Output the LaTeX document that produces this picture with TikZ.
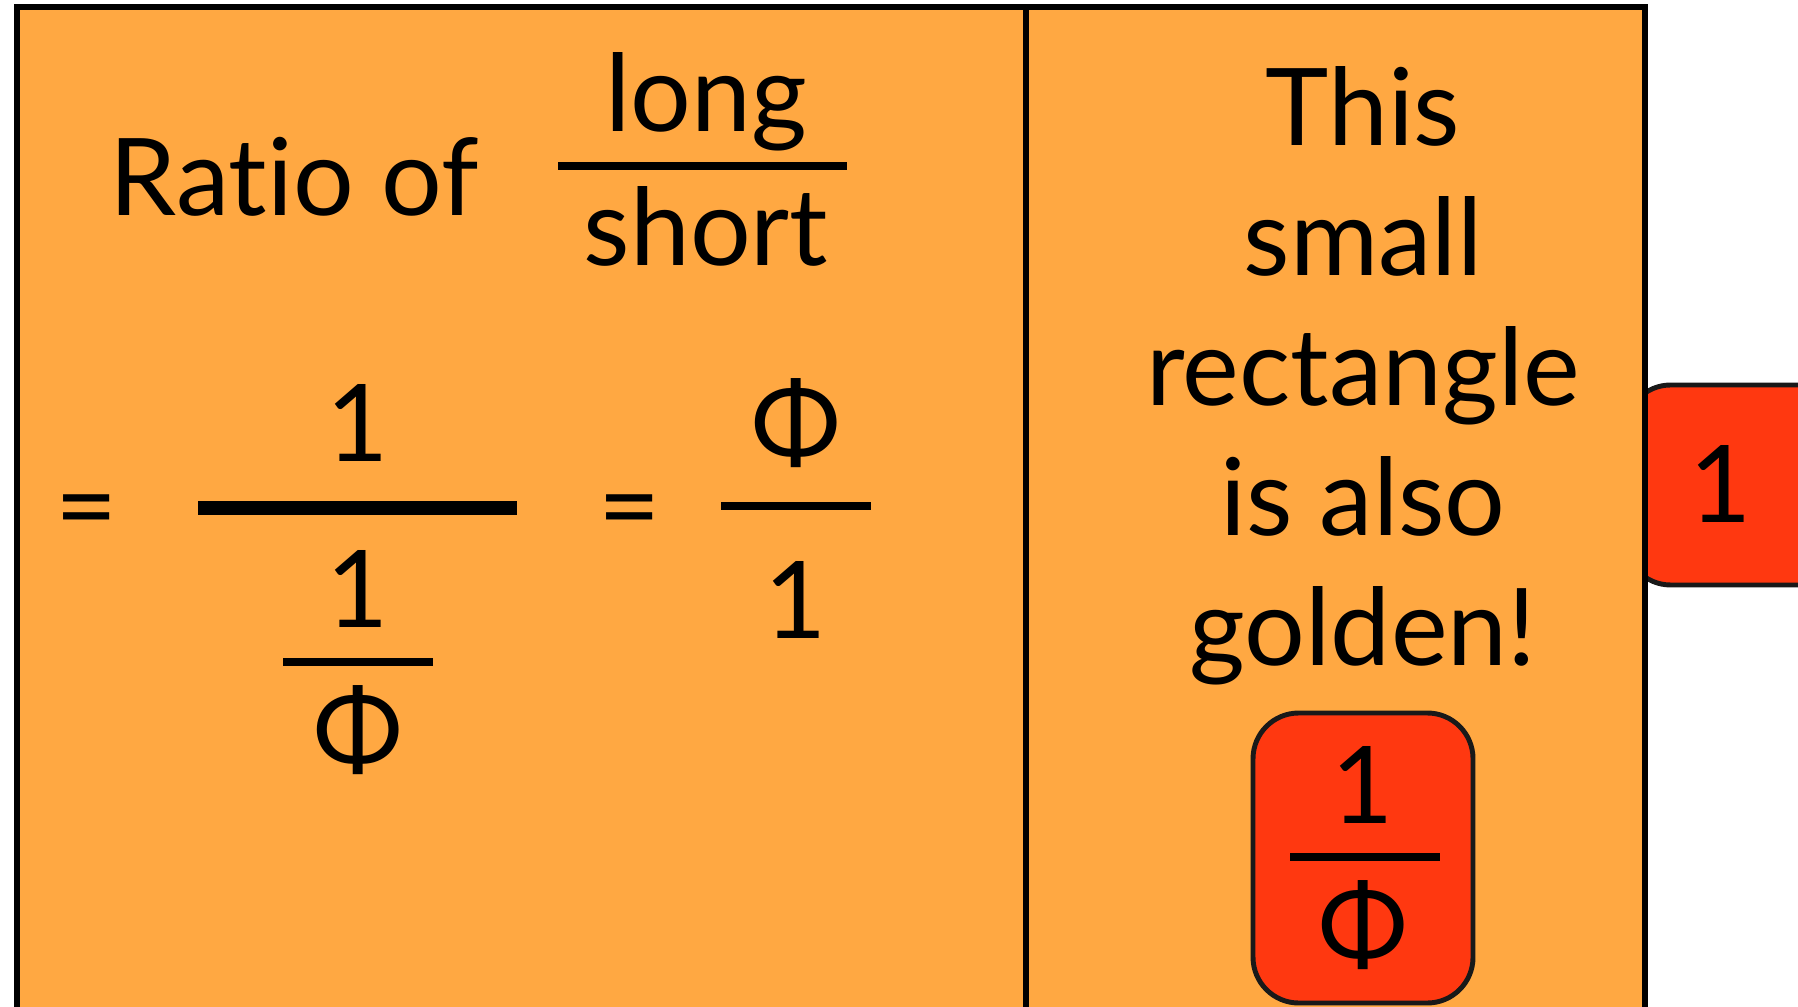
\documentclass[tikz,border=0pt]{standalone}
\usepackage{fontspec}
\setmainfont{Lato}[Ligatures={NoCommon,NoRare}]
\usetikzlibrary{positioning}
\definecolor{panelorange}{HTML}{FFA842}
\definecolor{tilered}{HTML}{FF3810}

\begin{document}
\begin{tikzpicture}[x=0.01cm,y=-0.01cm,
    panel/.style={draw=black,line width=1.5pt,fill=panelorange},
    tile/.style={draw=black!90,line width=1.4pt,fill=tilered,rounded corners=13pt},
    bar/.style={line width=2pt},
    thickbar/.style={line width=4pt},
    word/.style={anchor=base,inner sep=0pt,font=\fontsize{30.5}{37}\selectfont}]
    \useasboundingbox (0,0) rectangle (1798,1007);

    % tile on the right edge, partly under the panel
    \draw[tile] (1625,385) rectangle (1860,585);
    \node[word] (tileone) at (1721,523) {1};

    % the panel and its cut
    \draw[panel] (17,7) rectangle (1645,1040);
    \draw[panel] (1026,7) -- (1026,1040);

    % left half
    \node[word,anchor=base west] (ratio) at (109,216) {Ratio of};
    \node[word] (long) at (706,132) {long};
    \node[word] (short) at (706,266) {short};
    \draw[bar] (558,166) -- (847,166);

    \node[word] (eqa) at (87,544) {=};
    \node[word] (onea) at (358,462) {1};
    \draw[thickbar] (198,508) -- (517,508);
    \node[word] (oneb) at (358,628) {1};
    \draw[bar] (283,662) -- (433,662);
    \node[word] (phia) at (358,768) {Φ};

    \node[word] (eqb) at (630,544) {=};
    \node[word] (phib) at (796,462) {Φ};
    \draw[bar] (721,506) -- (871,506);
    \node[word] (onec) at (796,639) {1};

    % right half
    \foreach \w [count=\i] in {This,small,rectangle,is also,golden!}
        \node[word] (line\i) at (1363,146+130*\i-130) {\w};

    \draw[tile] (1253,713) rectangle (1473,1003);
    \node[word] (oned) at (1363,823) {1};
    \draw[bar] (1290,857) -- (1440,857);
    \node[word] (phic) at (1363,963) {Φ};
\end{tikzpicture}
\end{document}
